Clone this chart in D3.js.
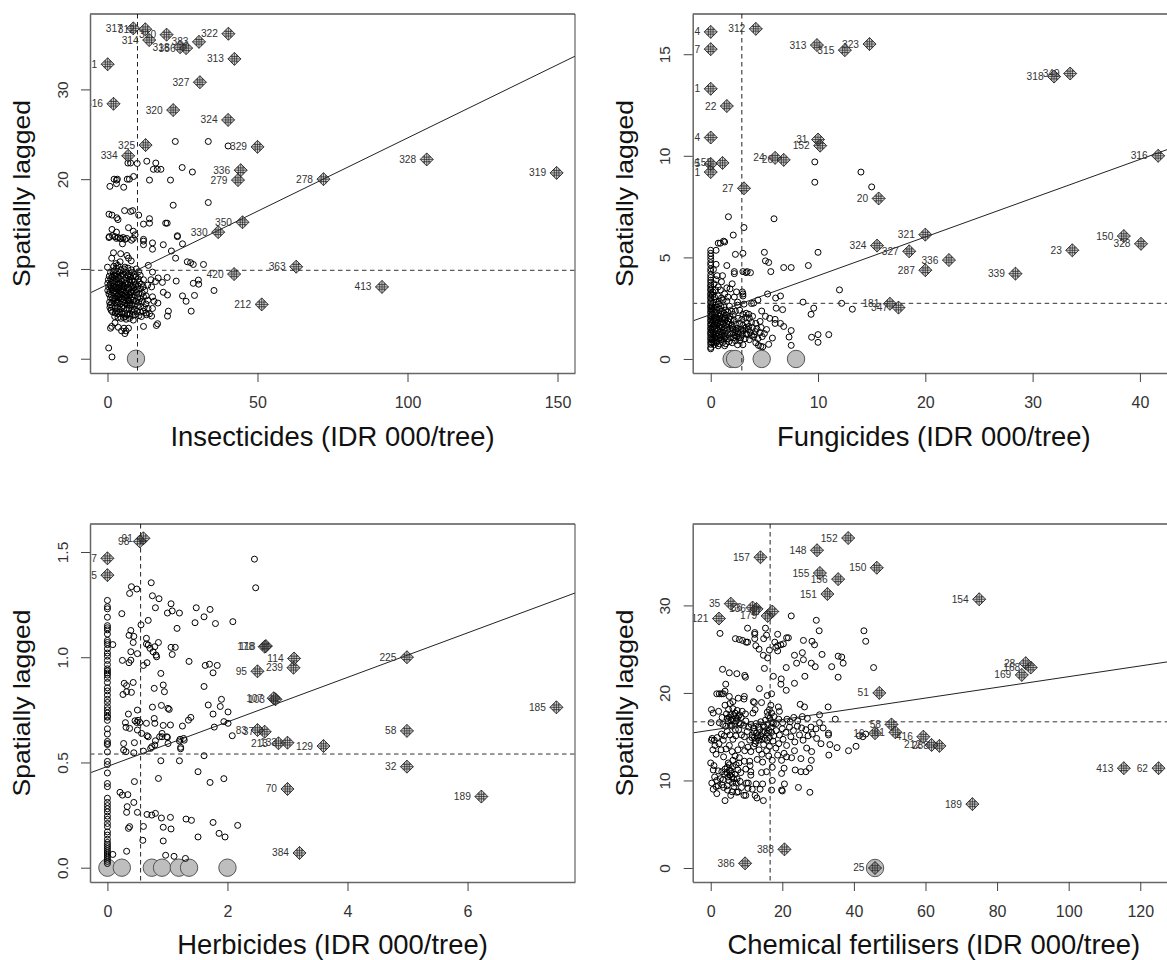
<!DOCTYPE html>
<html><head><meta charset="utf-8"><script src="https://cdnjs.cloudflare.com/ajax/libs/d3/7.8.5/d3.min.js"></script>
<style>html,body{margin:0;padding:0;background:#fff;overflow:hidden}svg{display:block}text{font-family:"Liberation Sans",Arial,sans-serif}</style></head><body><svg id="c" width="1167" height="960"></svg>
<script>
const titles=["Insecticides (IDR 000/tree)","Fungicides (IDR 000/tree)","Herbicides (IDR 000/tree)","Chemical fertilisers (IDR 000/tree)"];
const yTitle="Spatially lagged";
const xTicksA=[0,50,100,150],yTicksA=["0","10","20","30"];
const xTicksB=[0,10,20,30,40],yTicksB=["0","5","10","15"];
const xTicksC=[0,2,4,6],yTicksC=["0.0","0.5","1.0","1.5"];
const xTicksD=[0,20,40,60,80,100,120],yTicksD=["0","10","20","30"];
const fitA=[8.27,.1632],fitB=[2.19,.1908],fitC=[.481,.1058],fitD=[15.74,.0612];
const meansA=[10,9.85],meansB=[2.9,2.74],meansC=[.553,.54],meansD=[16.6,16.7];
const bigA=[[9.5,0]],bigB=[[1.95,0],[2.27,0],[4.75,0],[7.95,0]],bigC=[[0,0],[.24,0],[.74,0],[.91,0],[1.19,0],[1.36,0],[2,0]],bigD=[[45.9,0]];
const inflA=[[8.6,36.8,"317"],[12.6,36.7,"312"],[13.9,35.5,"314"],[19.7,36.1,"310"],[24.2,34.7,"318"],[26.2,34.6,"356"],[30.5,35.3,"383"],[40.3,36.2,"322"],[42.3,33.4,"313"],[.05,32.8,"1"],[30.8,30.8,"327"],[2,28.4,"316"],[21.9,27.7,"320"],[40.2,26.6,"324"],[12.7,23.8,"325"],[6.9,22.6,"334"],[50,23.6,"329"],[44.4,21,"336"],[43.5,19.9,"279"],[45,15.2,"350"],[36.9,14.1,"330"],[72,20,"278"],[106.4,22.2,"328"],[149.7,20.7,"319"],[62.9,10.25,"363"],[42.2,9.43,"420"],[51.4,6.05,"212"],[91.5,8,"413"]];
const inflB=[[0,16.1,"4"],[0,15.25,"7"],[0,13.3,"1"],[1.5,12.45,"22"],[0,10.9,"4"],[1.1,9.65,"153"],[0,9.6,"95"],[0,9.2,"1"],[4.2,16.25,"312"],[9.9,15.45,"313"],[12.5,15.2,"315"],[14.8,15.5,"323"],[10,10.8,"31"],[10.2,10.5,"152"],[6,9.9,"24"],[6.8,9.8,"26"],[3.1,8.4,"27"],[15.65,7.9,"20"],[32,13.9,"318"],[33.5,14.05,"349"],[41.7,10,"316"],[20,6.12,"321"],[18.5,5.3,"327"],[22.2,4.87,"336"],[20,4.37,"287"],[28.4,4.2,"339"],[33.7,5.35,"23"],[38.5,6.05,"150"],[40.1,5.67,"328"],[15.5,5.58,"324"],[16.7,2.72,"181"],[17.5,2.53,"347"]];
const inflC=[[.6,1.565,"91"],[.54,1.55,"98"],[0,1.47,"67"],[0,1.39,"5"],[2.64,1.053,"118"],[2.62,1.05,"178"],[3.11,.994,"114"],[3.1,.95,"239"],[2.5,.933,"95"],[2.8,.8,"103"],[2.77,.805,"107"],[2.5,.654,"83"],[2.62,.646,"37"],[4.99,1,"225"],[7.48,.762,"185"],[4.99,.65,"58"],[4.99,.48,"32"],[6.23,.338,"189"],[3,.374,"70"],[3.2,.07,"384"],[3.6,.578,"129"],[2.85,.591,"213"],[3,.594,"133"]];
const inflD=[[38.4,37.7,"152"],[29.7,36.3,"148"],[13.9,35.5,"157"],[30.5,33.7,"155"],[46.4,34.3,"150"],[35.6,33,"156"],[32.6,31.3,"151"],[5.6,30.2,"35"],[2.3,28.5,"121"],[11.7,29.75,"36"],[12.8,29.6,"136"],[15.9,28.8,"179"],[17.2,29.3,"17"],[47.1,20,"51"],[50.5,16.4,"58"],[51.6,15.5,"61"],[45.9,15.4,"16"],[20.6,2.13,"388"],[9.6,.53,"386"],[45.9,0,"25"],[88,23.4,"28"],[89.4,22.9,"168"],[86.9,22.06,"169"],[59.4,15,"416"],[61.7,14.06,"212"],[63.9,13.95,"288"],[115.4,11.4,"413"],[125.1,11.4,"62"],[73.1,7.3,"189"],[75,30.7,"154"]];
const ptsA=[[22.6,24.2],[33.6,24.2],[40.2,23.7],[6.8,21.8],[7.7,21.8],[9.9,21.75],[13.1,22],[16.1,21.8],[15.3,21.1],[16.6,21.1],[17.8,21.1],[24.9,21.3],[28.3,20.8],[2.2,20],[3.3,20],[3,19.9],[6.6,20],[7.3,20],[8.7,20.3],[14,19.9],[21,19.9],[.8,19.2],[3,19.5],[5.4,19.1],[33.6,17.4],[21.9,17.1],[.5,16.1],[1.5,16],[3.1,15.7],[3.5,15.5],[5.7,16.5],[7.7,16.4],[8.4,16.5],[10.4,16],[14,15.6],[14,15.1],[12,15],[19.4,15.1],[19.9,15.1],[1.5,14.4],[3,14.1],[7,14.6],[8.6,14.2],[9.2,13.8],[23.3,13.6],[.5,13.5],[1.7,13.7],[2.5,13.6],[3.6,13.5],[4.4,13.4],[5.2,13.5],[6.4,13.4],[8,13.2],[12,13.3],[.6,13.6],[3,13.4],[4.2,13.4],[5,12.8],[5.8,13.3],[8.6,13.4],[12,13.1],[12,12.7],[15,12.9],[15,12.2],[18.6,12.7],[23.3,13.7],[25,12.8],[21.3,12],[22.7,11.2],[2,11.8],[1.4,11.2],[4.4,11.7],[6.5,11.5],[7,11.2],[7.9,10.9],[4.2,10.8],[2.8,10.6],[0,10.2],[5.8,10.2],[13.6,10.4],[15,9.65],[26.6,10.8],[27.7,10.7],[28.6,10.5],[32,10.5],[16.9,9],[19.9,9.05],[12,8.8],[14.5,8.8],[16,8.6],[18.3,8.5],[22.9,8.65],[30.3,8.76],[30.4,8.3],[28.6,8.4],[13.4,8.2],[14.7,8],[35.5,7.6],[18.6,7.4],[20,7.1],[29,7.05],[25,7],[26.2,6.4],[15,6.9],[15.5,6.4],[16.8,6.2],[20.3,5.3],[20,4.75],[27.9,5.3],[15,5.6],[14,5],[14.7,4.75],[12,3.6],[16.7,3.9],[16.3,3.7],[1,3.4],[1.4,3.6],[2.5,4],[3.6,3.5],[4.7,3.1],[5.5,3.4],[5.8,2.8],[7,3.4],[6.2,3.1],[8.6,4.3],[.4,1.2],[1.5,.2],
[2.1,10.3],[3,10.1],[3.4,10.4],[4.5,9.9],[5.5,10],[6.8,10.1],[8,9.9],[9.6,10],[10.4,9.7],[1,9.6],[1.9,9.7],[2.6,9.5],[3.4,9.7],[4.1,9.6],[5,9.5],[6.2,9.6],[7.3,9.5],[8.1,9.6],[9,9.4],[10.9,9.3],[.6,9.2],[1.5,9.1],[2.2,9.3],[2.9,9.2],[3.6,9.1],[4.4,9.2],[5.2,9.3],[6.1,9],[6.9,9.2],[7.6,9.1],[8.6,9.2],[9.5,9.1],[10.3,8.9],[1.1,8.8],[1.8,8.7],[2.5,8.9],[3.2,8.8],[3.9,8.9],[4.7,8.7],[5.5,8.8],[6.4,8.6],[7.2,8.8],[8.1,8.7],[9.1,8.6],[10.6,8.5],[11.3,8.3],[.1,8.4],[.9,8.3],[1.6,8.5],[2.2,8.4],[3,8.5],[3.7,8.3],[4.3,8.4],[5.1,8.2],[6,8.4],[6.8,8.3],[7.5,8.5],[8.4,8.2],[9.4,8.3],[10.2,8.1],[11.9,8],[.4,8],[1.3,7.9],[2,8.1],[2.8,8],[3.5,7.9],[4.1,8],[4.9,7.8],[5.6,8],[6.6,7.9],[7.3,7.8],[8,8],[8.9,7.9],[9.8,7.7],[11,7.8],[12.4,7.6],[.1,7.6],[.8,7.5],[1.5,7.7],[2.4,7.6],[3.1,7.4],[3.8,7.6],[4.6,7.5],[5.4,7.7],[6.2,7.5],[7,7.6],[7.8,7.3],[8.6,7.5],[9.6,7.4],[10.4,7.2],[11.6,7.3],[12.9,7],[.5,7.2],[1.2,7.1],[1.9,7.3],[2.7,7.2],[3.4,7],[4.2,7.2],[5,7.1],[5.8,7.3],[6.5,7],[7.4,7.1],[8.2,6.9],[9,7.1],[10,6.8],[10.9,6.7],[12,6.9],[13.4,6.5],[1,6.8],[1.7,6.7],[2.4,6.8],[3.2,6.6],[3.9,6.8],[4.6,6.7],[5.4,6.6],[6.1,6.8],[6.9,6.6],[7.7,6.7],[8.6,6.5],[9.5,6.4],[10.4,6.3],[11.6,6.4],[12.8,6.1],[.7,6.3],[1.4,6.2],[2.1,6.4],[2.9,6.2],[3.6,6.3],[4.3,6.1],[5.1,6.3],[5.8,6.2],[6.6,6],[7.4,6.2],[8.2,6],[9.1,6.1],[10,5.9],[11,5.8],[12.2,5.7],[13.5,5.6],[.8,5.7],[1.6,5.8],[2.5,5.6],[3.3,5.7],[4,5.5],[4.8,5.7],[5.5,5.6],[6.4,5.5],[7.2,5.6],[8,5.4],[8.9,5.5],[9.8,5.3],[10.9,5.2],[11.9,5.3],[12.9,5.1],[1.7,5.2],[2.6,5.1],[3.4,5],[4.1,5.2],[4.9,5],[5.7,5.1],[6.5,4.9],[7.4,5],[8.3,4.8],[9.2,4.9],[10.5,4.8],[11.3,4.7],[2.4,4.7],[3.5,4.6],[4.5,4.5],[5.4,4.6],[6.2,4.4],[7.3,4.5],[.9,6],[.3,8.8],[1.2,5.4],[13,4.9],
[4,7.9],[6,7.1],[3.3,6.4],[5.3,5.9],[7.6,5.9],[2.3,9.8],[6.7,9.3],[9.3,8.2],[3.1,5.3],[5.9,4.7],[8.6,5.2],[1.1,8.1],[2.6,7.9],[4.7,8.1],[6.3,6.5],[8,7.4],[3.7,7.1],[5.5,6.9],[7.1,6.4]];
const ptsB=[[2.1,6.1],[.7,5.7],[.9,5.7],[1.3,5.76],[0,5.35],[.5,5.35],[2.3,5.15],[3,5.2],[5,5.25],[10,5.25],[5.1,4.83],[5.4,4.75],[5.6,4.3],[6.8,4.5],[7.5,4.5],[9.1,4.6],[1.5,4.6],[.5,4.66],[2.2,4.3],[2.2,4.2],[3,4.3],[3.3,4.25],[3.4,4.3],[3.7,4.25],[1.1,4.1],[.6,4.1],[12,3.4],[12.2,2.74],[13.2,2.45],[8.6,2.8],[9.6,2.5],[9.35,2.2],[5.3,3.2],[6.05,3],[6.5,3.1],[4.4,2.9],[4,2.75],[3.8,2.73],[6.1,2.5],[6.7,2.43],[4.75,2.36],[5.1,2.1],[5.5,2],[6,1.95],[6,1.75],[6.5,1.75],[6.8,1.6],[7.5,1.4],[7.3,1.08],[7.5,.67],[5.75,1.03],[5.4,.72],[4.85,.6],[4.45,.67],[4.66,.62],[9.4,1.07],[10,1.2],[10,.82],[11,1.2],[3,3.1],[3,3.2],[2.95,3.3],[2,3.7],[1.8,3.45],[2.4,3.3],[1.3,3.2],[1,3.8],[.5,3.9],[.7,3.55],[1.65,7],[5.9,6.9],[3.1,6.47],[1.2,5.8],[9.7,9.7],[9.7,8.7],[14,9.2],[15,8.47],
[0,.5],[0,.57],[0,.72],[0,.83],[0,.96],[0,1.04],[0,1.17],[0,1.26],[0,1.33],[0,1.46],[0,1.53],[0,1.66],[0,1.74],[0,1.87],[0,1.94],[0,2.06],[0,2.13],[0,2.27],[0,2.34],[0,2.46],[0,2.57],[0,2.63],[0,2.76],[0,2.84],[0,2.97],[0,3.04],[0,3.16],[0,3.23],[0,3.37],[0,3.44],[0,3.56],[0,3.64],[0,3.77],[0,3.88],[0,4.01],[0,4.14],[0,4.32],[0,4.44],[0,4.62],[0,4.74],[0,4.91],[0,5.06],[0,5.2],
[.1,.8],[.25,.85],[.5,.8],[.8,.75],[1.1,.8],[1.4,.75],[1.7,.85],[2,.8],[2.3,.9],[2.7,.9],[3,.7],[.15,1],[.4,1.05],[.7,1],[.95,.95],[1.25,1],[1.55,1],[1.85,1.05],[2.15,1.05],[2.45,1.1],[2.8,1.05],[3.2,1],[3.6,.95],[4,1.1],[4.4,1],[4.8,1.1],[.2,1.2],[.45,1.25],[.75,1.2],[1,1.15],[1.3,1.25],[1.6,1.2],[1.95,1.25],[2.25,1.3],[2.6,1.25],[2.95,1.2],[3.3,1.25],[3.7,1.3],[4.15,1.35],[4.6,1.3],[5,1.25],[.1,1.4],[.35,1.45],[.65,1.4],[.9,1.35],[1.2,1.45],[1.5,1.4],[1.8,1.5],[2.1,1.45],[2.45,1.5],[2.8,1.45],[3.15,1.5],[3.5,1.45],[3.9,1.55],[4.3,1.5],[4.7,1.55],[5.2,1.45],[.25,1.6],[.5,1.65],[.8,1.6],[1.05,1.55],[1.4,1.65],[1.7,1.7],[2,1.65],[2.35,1.7],[2.7,1.75],[3,1.65],[3.4,1.75],[3.8,1.8],[4.2,1.75],[4.6,1.85],[.15,1.8],[.4,1.85],[.7,1.8],[1,1.85],[1.3,1.9],[1.6,1.85],[1.9,1.95],[2.2,1.9],[2.55,2],[2.9,1.95],[3.25,2.05],[3.6,2],[3.9,2.1],[.3,2],[.55,2.05],[.85,2.1],[1.15,2.05],[1.45,2.15],[1.8,2.1],[2.1,2.2],[3,2.2],[3.3,2.25],[3.55,2.2],[.15,2.2],[.45,2.3],[.75,2.25],[1.05,2.35],[1.4,2.4],[1.95,2.35],[2.3,2.35],[.3,2.5],[.6,2.55],[.95,2.6],[1.25,2.55],[1.75,2.6],[2.5,2.65],[.2,2.75],[.5,2.8],[.8,2.85],[1.15,2.9],[1.5,2.85],[2.5,2.8],[3.1,2.7],[.35,3.05],[.7,3.1],[1,3],[1.6,3.05],[2.2,3.05],[.2,3.3],[.45,3.4],[.9,3.4],[1.5,3.5],[.3,3.7],[.25,4.4],[.15,3.15],[1.6,2.3],[2.7,2.4],[3.4,1.2],[3.8,1.15],[4.2,.8],[2.5,.7],[1.3,.65],[.7,.65],[.35,.7],
[.2,.95],[.35,1.1],[.6,1.1],[.55,.9],[.9,1.05],[1.2,1.12],[.25,1.33],[.55,1.5],[.85,1.5],[1.1,1.32],[1.35,1.1],[1.5,1.55],[.18,1.55],[.32,1.72],[.6,1.75],[.9,1.7],[1.15,1.75],[1.5,1.75],[.22,1.92],[.5,1.95],[.75,1.98],[1.05,1.97],[1.35,2],[1.7,1.98],[.12,2.08],[.4,2.15],[.65,2.18],[.95,2.2],[1.25,2.25],[.1,2.4],[.25,2.38],[.55,2.42],[.85,2.45],[.12,2.6],[.4,2.65],[.7,2.7],[2.25,1.15],[2.6,1.05],[3,1.4],[3.3,1.55],[3.55,1.6],[2.05,1.55],[2.35,1.4],[2.55,1.35],[4.05,1.2]];
const ptsC=[[2.45,1.466],[2.47,1.33],[.73,1.354],[.4,1.335],[.49,1.324],[.37,1.303],[.75,1.292],[.86,1.278],[1.06,1.254],[.8,1.235],[1.48,1.235],[1.71,1.227],[1.08,1.22],[1,1.21],[1.2,1.21],[.24,1.207],[1.61,1.192],[.68,1.175],[1.46,1.164],[1.8,1.16],[2.09,1.169],[.56,1.154],[1.16,1.137],[.39,1.127],[.36,1.104],[.44,1.099],[.43,1.07],[.65,1.09],[.85,1.07],[.65,1.063],[.68,1.058],[.09,1.06],[.79,1.05],[.71,1.042],[1.06,1.047],[1.13,1.047],[.76,1.026],[.81,1.01],[.82,1.002],[1.08,1.013],[.39,1.026],[.5,1.017],[.25,.985],[.39,.986],[.36,.974],[.66,.974],[.6,.961],[1.36,.98],[1.63,.961],[1.7,.967],[1.83,.961],[1.76,.926],[.89,.923],[.28,.876],[.32,.865],[.43,.88],[.26,.823],[.32,.836],[.4,.833],[.93,.868],[.78,.852],[.95,.836],[1.61,.861],[1.9,.8],[1.68,.773],[1.88,.766],[2.01,.74],[1.76,.73],[.75,.763],[.9,.771],[1.01,.757],[1.03,.752],[.35,.73],[.5,.749],[.3,.689],[.46,.698],[.51,.7],[.49,.69],[.31,.667],[.37,.662],[.5,.654],[.54,.69],[.65,.686],[.78,.709],[.79,.686],[.93,.676],[1.05,.678],[1.25,.673],[1.35,.701],[1.39,.714],[1.78,.668],[1.94,.694],[2.01,.686],[2.08,.627],[.57,.638],[.68,.622],[.91,.638],[.87,.622],[.99,.622],[1.21,.61],[1.27,.614],[.66,.627],[.91,.622],[1,.619],[1.01,.59],[.8,.603],[.74,.575],[.79,.583],[.27,.59],[.45,.594],[1.2,.602],[1.28,.606],[1.22,.572],[1.22,.565],[.27,.559],[.31,.551],[.44,.546],[.6,.554],[.72,.567],[1.61,.532],[.89,.508],[1.2,.508],[1.51,.456],[.85,.424],[.45,.409],[1.71,.405],[1.94,.423],[.21,.358],[.25,.345],[.34,.347],[.44,.31],[.33,.29],[.32,.263],[.5,.263],[.66,.253],[.74,.25],[.8,.258],[.9,.236],[1.05,.239],[1.31,.231],[1.4,.225],[1.76,.215],[2.17,.201],[.35,.187],[.37,.195],[.6,.196],[.93,.192],[1.06,.184],[1.51,.146],[1.86,.163],[1.96,.146],[.59,.13],[.93,.127],[.32,.078],[.09,.063],[.97,.059],[1.11,.054],[1.3,.044],
[0,.02],[0,.03],[0,.04],[0,.05],[0,.06],[0,.07],[0,.08],[0,.09],[0,.1],[0,.11],[0,.12],[0,.135],[0,.155],[0,.17],[0,.195],[0,.21],[0,.23],[0,.245],[0,.265],[0,.28],[0,.295],[0,.31],[0,.33],[0,.385],[0,.4],[0,.45],[0,.49],[0,.505],[0,.55],[0,.585],[0,.59],[0,.6],[0,.635],[0,.66],[0,.7],[0,.715],[0,.72],[0,.735],[0,.75],[0,.765],[0,.785],[0,.8],[0,.82],[0,.84],[0,.855],[0,.88],[0,.9],[0,.915],[0,.925],[0,.935],[0,.945],[0,.965],[0,.985],[0,1.005],[0,1.02],[0,1.04],[0,1.06],[0,1.07],[0,1.08],[0,1.11],[0,1.13],[0,1.14],[0,1.15],[0,1.19],[0,1.23],[0,1.24],[0,1.27]];
const ptsD=[[22.5,28.8],[29.5,28.3],[30.3,27.1],[42.8,27.1],[43.3,25.9],[45.5,22.9],[35.6,21.8],[33.8,23],[35.6,24.2],[36.6,24.1],[37,23.4],[31.1,24.4],[2.6,26.8],[10.3,27.4],[12.3,26.9],[12.3,26.7],[15.3,27.4],[15.6,26.6],[12.3,26.2],[14.8,26.2],[6.9,26.2],[8,26.1],[8.9,26],[9.9,25.8],[10.3,25.8],[12.6,25.4],[13.5,25],[16.4,24.9],[18.7,26.7],[21.2,26.3],[21.7,26.3],[17.9,25.8],[18.7,25.4],[18.7,24.8],[19.6,25.5],[20.3,25.6],[18.2,25.2],[25.9,26],[28.3,25.9],[29,25.5],[25.6,24.6],[23.4,24.3],[24,23.4],[25.9,23.8],[28.1,23.4],[29.2,23],[14.7,24.3],[15.9,24],[15,22.8],[21.1,22.9],[26.3,21.9],[23.4,21.1],[19.7,21.6],[19.6,21],[21.1,20.3],[17.5,21.9],[3.3,22.7],[5.2,22.3],[7.3,22.2],[9.5,22],[9.7,21.8],[4.2,21],[13.6,20.5],[3.5,19.9],[4,20.2],[1.7,19.9],[2.4,19.9],[3,19.9],[5.2,19.6],[7.7,19.4],[9.4,19.6],[9.3,19.3],[11.9,19],[12.2,18.9],[14.2,18.9],[15.8,19.7],[17,19.9],[16.8,18.6],[18.9,18.4],[19.2,17.9],[25,18.7],[26.2,18.4],[32.8,18.4],[30.4,17.5],[34.8,17],[27,17.1],[30.4,16.6],[.1,16.6],[.2,18.1],[.7,17.7],[2.2,17.9],[33,12.9],[30.8,14.2],[33.3,14.1],[35.3,13.75],[38.5,13.4],[40.6,13.9],[32.9,15.2],[32.9,15.4],[42.5,15],[43.3,15.3],[41.5,15.1],[27.7,8.65],[24.5,9.2],[19.8,8.9],[20,8.8],[20.6,9.6],[17,8.9],[17.2,10],[14.7,7.7],[12.9,8],[12.4,8.3],[13.8,9],[14.5,9.6],[12.7,9.6],[11.6,9],[4,7.7],[1.7,8.5],[9.3,8.3],[9.8,8.3],[7.3,8.65],[4.7,8.9],[.7,9],[1.5,9.3],[2.1,9.4],[.3,9.7],[1.7,10],[7.1,9.7],[6.5,9.3],[8.2,9.9],[10,9.7],[10.5,9.7],[5.1,10],[5.9,10.4],[4.5,10.9],[5.2,11.2],[4,11.3],[2.1,11.1],[.7,11.2],[3.1,11],[7.1,11.8],[4.9,12],[0,12],[.9,11.7],[8.4,10.9],[11.2,11],[11.2,10.6],[14.2,10.9],[15.6,11],[17.2,11.5],[17.2,12.3],[19.8,12.3],[21.2,12.7],[19.8,10.8],[20.5,11.4],[23.6,11.2],[25.2,11],[26.6,11],[27.6,11.4],[28.1,12.3],[25.2,12.5],[26.8,13.7],[28.2,13.3],[23.4,13.4],
[4.6,11.5],[5.6,11.1],[6.2,11.6],[6.8,10.7],[5.4,10.6],[7.4,10.2],[7.9,12],[10.9,12.2],[11,11.7],[9.8,11.3],[13,12.4],[14.5,12.1],[16.2,12.8],[.4,14.8],[1,14.6],[1.8,14.9],[2.3,14.2],[3.5,14.6],[4.3,13.6],[1.2,14],[5.2,14],[6,13.3],[6.8,12.8],[7.6,13.5],[8.6,14.1],[9.5,13.4],[10.4,13.8],[11.2,13.3],[12,13.9],[12.6,14.5],[13.5,13.5],[14.3,13],[14.8,14.1],[15.6,13.4],[16.4,13.9],[17.4,14.5],[18.2,13.7],[19,14.2],[20.2,14.7],[21.2,14],[22.4,15],[23.5,14.4],[24.8,15.2],[25.8,14.6],[27.2,15.1],[28.4,15.3],[29.6,14.8],[3,15.3],[3.8,15.1],[4.6,15.6],[5.4,15.2],[6.2,14.7],[7,15.1],[7.8,15.8],[8.6,15.2],[9.4,15],[10.2,15.6],[10.9,14.6],[11.6,15.2],[12.2,14.9],[12.8,15.4],[13.4,14.6],[14,15.1],[14.6,15.5],[15.2,14.8],[15.8,15.4],[16.4,14.9],[17,15.5],[17.6,15.1],[18.3,15.7],[19.2,15.2],[20,15.9],[21,15.5],[22,16.1],[23.1,15.7],[24.2,16.2],[25.4,16],[26.6,15.8],[28,16.1],[29.4,15.9],[31.4,16],[3.4,16.4],[4.2,16.2],[4.9,16.8],[5.5,16.3],[6.1,17],[6.7,16.5],[7.3,17.1],[7.9,16.6],[8.5,17.2],[9.2,16.3],[9.8,16.8],[10.6,16.1],[11.3,16.4],[12,16],[12.7,16.5],[13.3,16.1],[14,16.7],[14.7,16.3],[15.3,16.9],[15.9,16.4],[16.5,17.1],[17.1,16.6],[17.7,17.3],[18.3,16.5],[19,17],[20.1,16.6],[21.3,17],[22.2,16.7],[23.2,17.2],[24.3,16.8],[25.6,17.3],[4.4,17.6],[5,18.1],[5.6,17.5],[6.2,18.2],[6.8,17.7],[7.4,18],[8,17.5],[8.8,17.9],[9.7,17.6],[11.8,17.7],[12.4,18.1],[15.8,17.8],[16.4,18.1],[17,17.7],[3.2,17.2],[2.4,16.6],[4,18.6],[6.2,19],[5.4,18.8],[20.5,13.1],[18.7,12.9],[22.6,12.6],[8,12.6],[9.4,12.2],[6.2,12.3],[3.6,12.7],[1.5,13],[2.9,13.5],[.6,13.5],[.2,14.6],[10.4,9.1],[8.6,9.2],[6,8.7],[3.2,9.5],[2.7,10.2],[1.1,10.4],[3.5,10.1],[4.6,9.4],[5.6,8.3],[7.7,8.7],
[5.7,16.9],[6.4,17.4],[7.1,16.8],[7.7,17.3],[8.3,16.4],[5.2,17.2],[4.6,17.1],[6,16.2],[6.9,15.8],[12.1,15.6],[13,15.1],[13.7,15.8],[14.4,14.7],[15.1,15.6],[15.7,14.6],[16.3,15.7],[16.9,16.1],[17.5,16.5],[11.5,14.9],[12.4,14.2],[13.2,14.9],[15,16.1],[16,17.4],[5.2,11.8],[5.8,10.8],[6.4,10.2],[4.8,10.4],[3.9,10.7],[6.1,9.7],[7.6,11.2],[3.6,9.2]];
const panels=[
{pts:ptsA,infl:inflA,big:bigA,fit:fitA,m:meansA,xt:xTicksA,yt:yTicksA,t:titles[0],dx:[-5.83,155.83],dy:[-1.59,38.4],rx:[90,575],ry:[373,14],tb:446},
{pts:ptsB,infl:inflB,big:bigB,fit:fitB,m:meansB,xt:xTicksB,yt:yTicksB,t:titles[1],dx:[-1.68,43.27],dy:[-.69,16.98],rx:[692.7,1175],ry:[373,14],tb:446},
{pts:ptsC,infl:inflC,big:bigC,fit:fitC,m:meansC,xt:xTicksC,yt:yTicksC,t:titles[2],dx:[-.29,7.79],dy:[-.068,1.633],rx:[90,575],ry:[882,524],tb:954},
{pts:ptsD,infl:inflD,big:bigD,fit:fitD,m:meansD,xt:xTicksD,yt:yTicksD,t:titles[3],dx:[-5.03,129.7],dy:[-1.6,39.3],rx:[692.7,1175],ry:[882,524],tb:954}];
const svg=d3.select("#c");
const r=6.5,g=2.3,diamond=`M0,${-r}L${r},0L0,${r}L${-r},0Z`;
const gridLines=`M0,${-r}V${r}M${-r},0H${r}M${-g},${-(r-g)}V${r-g}M${g},${-(r-g)}V${r-g}M${-(r-g)},${-g}H${r-g}M${-(r-g)},${g}H${r-g}`;
panels.forEach((p,i)=>{
 const x=d3.scaleLinear().domain(p.dx).range(p.rx),y=d3.scaleLinear().domain(p.dy).range(p.ry);
 const [l,rr]=p.rx,[b,t]=p.ry,id="clip"+i;
 svg.append("clipPath").attr("id",id).append("rect").attr("x",l).attr("y",t).attr("width",rr-l).attr("height",b-t);
 const gp=svg.append("g").attr("clip-path",`url(#${id})`);
 gp.selectAll("circle.big").data(p.big).join("circle").attr("class","big").attr("cx",d=>x(d[0])).attr("cy",d=>y(d[1])).attr("r",8.7).attr("fill","#bebebe").attr("stroke","#555").attr("stroke-width",1);
 gp.selectAll("circle.pt").data(p.pts).join("circle").attr("class","pt").attr("cx",d=>x(d[0])).attr("cy",d=>y(d[1])).attr("r",3).attr("fill","none").attr("stroke","#000").attr("stroke-width",1);
 gp.append("line").attr("x1",x(p.dx[0])).attr("x2",x(p.dx[1])).attr("y1",y(p.fit[0]+p.fit[1]*p.dx[0])).attr("y2",y(p.fit[0]+p.fit[1]*p.dx[1])).attr("stroke","#222").attr("stroke-width",1);
 gp.append("line").attr("x1",x(p.m[0])).attr("x2",x(p.m[0])).attr("y1",t).attr("y2",b).attr("stroke","#222").attr("stroke-dasharray","4.5,3.5");
 gp.append("line").attr("x1",l).attr("x2",rr).attr("y1",y(p.m[1])).attr("y2",y(p.m[1])).attr("stroke","#333").attr("stroke-dasharray","4.5,3.5");
 const ds=gp.selectAll("g.inf").data(p.infl).join("g").attr("class","inf").attr("transform",d=>`translate(${x(d[0])},${y(d[1])})`);
 ds.append("path").attr("d",diamond).attr("fill","rgba(110,110,110,.35)").attr("stroke","#222").attr("stroke-width",.9);
 ds.append("path").attr("d",gridLines).attr("fill","none").attr("stroke","#222").attr("stroke-width",.7);
 gp.selectAll("text.lab").data(p.infl).join("text").attr("class","lab").attr("x",d=>x(d[0])-10.5).attr("y",d=>y(d[1])+3.5).attr("text-anchor","end").attr("font-size",10.2).attr("fill","#333").text(d=>d[2]);
 svg.append("path").attr("d",`M${l},${t}H${rr}`).attr("stroke","#000").attr("fill","none");
 svg.append("path").attr("d",`M${rr},${t}V${b}`).attr("stroke","#444").attr("fill","none");
 const ax=svg.append("g").attr("transform",`translate(0,${b})`).call(d3.axisBottom(x).tickValues(p.xt).tickSize(9).tickSizeOuter(0).tickFormat(d3.format("d")));
 ax.select(".domain").attr("stroke","#666").attr("stroke-width",1.5);
 ax.selectAll(".tick line").attr("stroke","#444");
 ax.selectAll(".tick text").attr("font-size",16).attr("font-family",'"Liberation Sans",Arial,sans-serif').attr("fill","#333").attr("y",0).attr("dy",0).attr("transform","translate(0,35)");
 const yv=p.yt.map(Number);
 const ay=svg.append("g").attr("transform",`translate(${l},0)`).call(d3.axisLeft(y).tickValues(yv).tickSize(9).tickSizeOuter(0).tickFormat((d,k)=>p.yt[k]));
 ay.select(".domain").attr("stroke","#666").attr("stroke-width",1.5);
 ay.selectAll(".tick line").attr("stroke","#444");
 ay.selectAll(".tick text").attr("font-size",15.5).attr("font-family",'"Liberation Sans",Arial,sans-serif').attr("fill","#333").attr("x",0).attr("dy",0).attr("text-anchor","middle").attr("transform",`translate(${67.5-90},0) rotate(-90)`);
 svg.append("text").attr("x",(l+rr)/2).attr("y",p.tb).attr("text-anchor","middle").attr("font-size",27.4).attr("fill","#111").text(p.t);
 const c=(t+b)/2;
 svg.append("text").attr("transform",`translate(${l-60},${c}) rotate(-90) scale(1,.88)`).attr("text-anchor","middle").attr("font-size",26.5).attr("fill","#111").text(yTitle);
});
</script></body></html>
